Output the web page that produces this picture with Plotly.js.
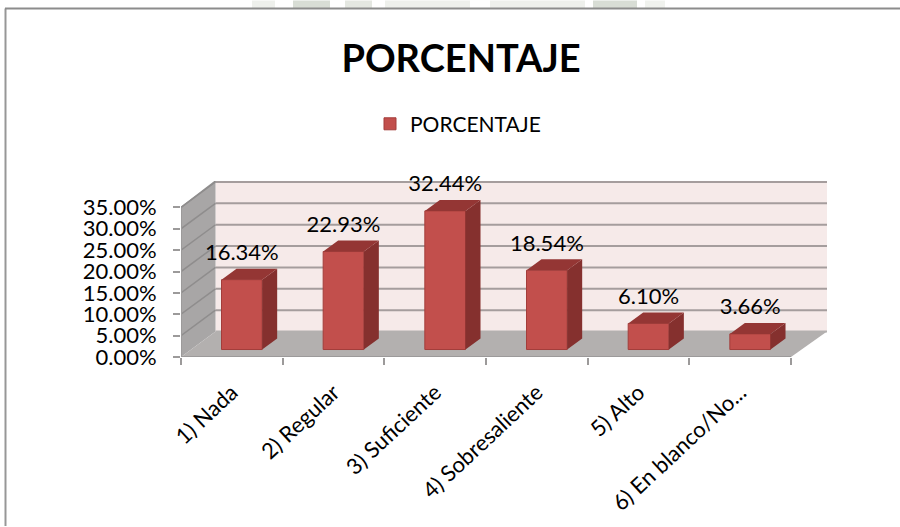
<!DOCTYPE html>
<html><head><meta charset="utf-8">
<script src="https://cdn.plot.ly/plotly-3.0.1.min.js"></script>
<style>html,body{margin:0;padding:0;background:#fff}#c{width:900px;height:527px}</style>
</head><body><div id="c"></div>
<script>
const categories = ["1) Nada","2) Regular","3) Suficiente","4) Sobresaliente","5) Alto","6) En blanco/No..."];
const values = [16.34,22.93,32.44,18.54,6.10,3.66];
const yTicks = [0,5,10,15,20,25,30,35];
const seriesName = "PORCENTAJE";

const W=900,H=527, L=181,R=827,T=181,B=357.5, catW=101.67, unitH=150/35;
const xr=[-0.5,-0.5+(R-L)/catW], yr=[0,(B-T)/unitH];
const wallDx=34.5/catW, wallDy=25.5/unitH;
const barDx=10/catW, barDy=7.5/unitH;
const depthX=15/catW, depthY=11/unitH, barW=0.40;
const labelUp=25/unitH;
const xMin=-0.5, xMax=5.5, yMax=35;
const px=x=>(x-L)/(R-L), py=y=>(B-y)/(B-T);
const poly=(pts,fill,line,lw)=>({type:'path',layer:'below',xref:'x',yref:'y',
  path:'M'+pts.map(p=>p.join(',')).join('L')+'Z',fillcolor:fill,line:{color:line||fill,width:lw||0}});
const seg=(a,b,c,w)=>({type:'line',layer:'below',xref:'x',yref:'y',x0:a[0],y0:a[1],x1:b[0],y1:b[1],line:{color:c,width:w}});

const shapes=[];
// faint page background showing above the frame
[[252,275,'#eef0ec'],[293,330,'#d8ddd5'],[345,372,'#e4e7e1'],[385,470,'#eef0ec'],[490,585,'#eef0ec'],[593,637,'#d8ddd5'],[645,665,'#f0f2ee']].forEach(s=>{
  shapes.push({type:'rect',xref:'paper',yref:'paper',x0:px(s[0]),x1:px(s[1]),y0:py(0),y1:py(8),fillcolor:s[2],line:{width:0},layer:'below'});
});
// frame
shapes.push({type:'line',xref:'paper',yref:'paper',x0:px(5.5),x1:px(5.5),y0:py(8),y1:py(527),line:{color:'#979797',width:2},layer:'below'});
shapes.push({type:'line',xref:'paper',yref:'paper',x0:px(5),x1:px(900),y0:py(8),y1:py(8),line:{color:'#8c8c8c',width:2},layer:'below'});
// walls
shapes.push(poly([[xMin+wallDx,wallDy],[xr[1],wallDy],[xr[1],yr[1]],[xMin+wallDx,yr[1]]],'#f6eae9'));
shapes.push(poly([[xMin,0],[xMin+wallDx,wallDy],[xMin+wallDx,yr[1]],[xMin,yMax]],'#a8a6a6'));
shapes.push(poly([[xMin,0],[xMax,0],[xr[1],wallDy],[xMin+wallDx,wallDy]],'#b3b0af'));
yTicks.forEach(t=>{
  if(t>=0) shapes.push(seg([xMin+wallDx,t+wallDy],[xr[1],t+wallDy],t?'#a59d9d':'#b3b0af',2));
  if(t>0) shapes.push(seg([xMin,t],[xMin+wallDx,t+wallDy],'#8f8d8d',1.5));
});
shapes.push(seg([xMin+wallDx,yr[1]],[xr[1],yr[1]],'#a59d9d',2));
shapes.push(seg([xMin,yMax],[xMin+wallDx,yr[1]],'#8f8d8d',1.5));
shapes.push(seg([xMin,0],[xMax,0],'#9c9a9a',2));
shapes.push(seg([xMin,0],[xMin,yMax],'#9c9a9a',2));

const idx=categories.map((_,i)=>i);
const sideX=[],sideY=[],topX=[],topY=[];
values.forEach((v,i)=>{
  const l=i+barDx-barW/2,r=i+barDx+barW/2,b=barDy,t=v+barDy;
  sideX.push(r,r+depthX,r+depthX,r,r,null); sideY.push(b,b+depthY,t+depthY,t,b,null);
  topX.push(l,l+depthX,r+depthX,r,l,null);  topY.push(t,t+depthY,t+depthY,t,t,null);
});
const font="Lato, Carlito, sans-serif";
const data=[
 {type:'bar',name:seriesName,x:idx.map(i=>i+barDx),y:values,base:barDy,width:barW,
  marker:{color:'#c24f4c',line:{color:'#a33d3a',width:1}},hoverinfo:'skip'},
 {type:'scatter',mode:'lines',x:sideX,y:sideY,fill:'toself',fillcolor:'#85302e',line:{width:0,color:'#85302e'},showlegend:false,hoverinfo:'skip'},
 {type:'scatter',mode:'lines',x:topX,y:topY,fill:'toself',fillcolor:'#943634',line:{width:0,color:'#943634'},showlegend:false,hoverinfo:'skip'},
 {type:'scatter',mode:'text',x:idx.map(i=>i+barDx),y:values.map(v=>v+barDy+labelUp),
  text:values.map(v=>v.toFixed(2)+'%'),textposition:'middle center',textfont:{family:font,size:22,color:'#000'},showlegend:false,hoverinfo:'skip',cliponaxis:false}
];
const layout={
 width:W,height:H,showlegend:true,paper_bgcolor:'#fff',plot_bgcolor:'rgba(0,0,0,0)',
 margin:{l:L,r:W-R,t:T,b:H-B,pad:0,autoexpand:false},
 title:{text:'<b>'+seriesName+'</b>',x:461/W,xref:'container',xanchor:'center',y:1-59/H,yref:'container',yanchor:'middle',font:{family:font,size:38,color:'#000'}},
 legend:{x:px(370),xref:'paper',xanchor:'left',y:py(124),yanchor:'middle',orientation:'h',font:{family:font,size:21,color:'#000'},bgcolor:'rgba(0,0,0,0)'},
 xaxis:{range:xr,tickmode:'array',tickvals:idx,ticktext:categories,tickangle:-43,ticks:'outside',ticklen:13,tickcolor:'rgba(0,0,0,0)',
   tickfont:{family:font,size:22,color:'#000'},showgrid:false,zeroline:false,showline:false,
   minor:{tickmode:'array',tickvals:[0,1,2,3,4,5,6].map(i=>i-0.5),ticks:'outside',ticklen:7,tickcolor:'#9c9a9a',tickwidth:2,showgrid:false}},
 yaxis:{range:yr,tickmode:'array',tickvals:yTicks,ticktext:yTicks.map(t=>t.toFixed(2)+'%'),ticks:'outside',ticklen:7,tickcolor:'#9c9a9a',tickwidth:2,
   tickfont:{family:font,size:22,color:'#000'},ticklabelstandoff:12,showgrid:false,zeroline:false,showline:false},
 shapes:shapes
};
Plotly.newPlot('c',data,layout,{displayModeBar:false,staticPlot:true});
</script></body></html>
